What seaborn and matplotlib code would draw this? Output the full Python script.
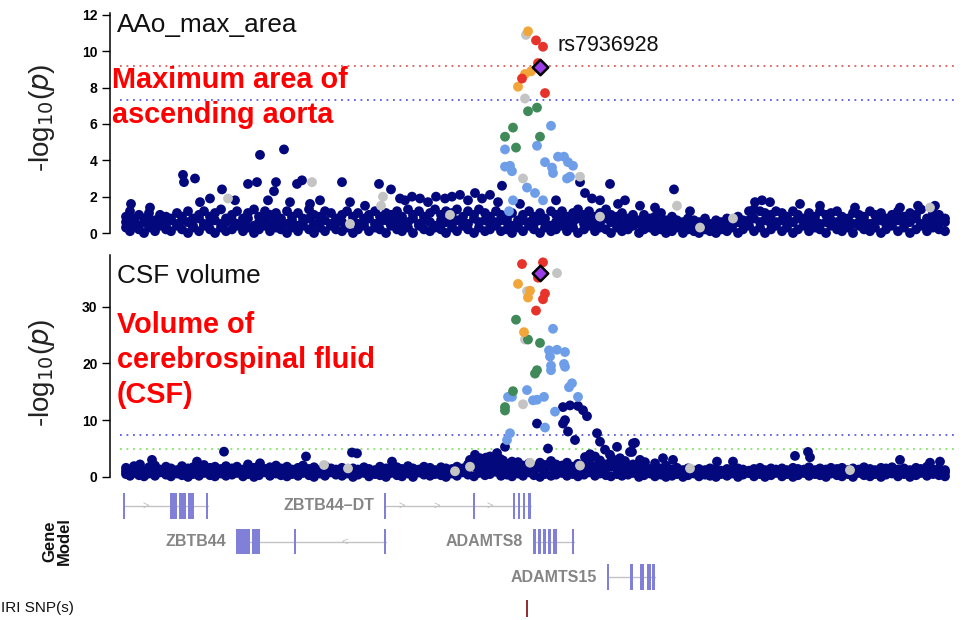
import numpy as np
import pandas as pd
import matplotlib
matplotlib.use("Agg")
import matplotlib.pyplot as plt
import seaborn as sns
from matplotlib.patches import Rectangle

sns.set_theme(style="white")
plt.rcParams["font.family"] = ["Liberation Sans", "DejaVu Sans"]

# ---------------- data (x = position along the region, arbitrary units) ----------------
band_pos = [
    126, 130, 134, 139, 144, 149, 155, 160, 166, 171,
    177, 182, 188, 193, 199, 204, 210, 215, 221, 226,
    232, 237, 243, 248, 254, 259, 265, 270, 276, 281,
    287, 292, 298, 303, 309, 314, 320, 325, 331, 336,
    342, 347, 353, 358, 364, 369, 375, 380, 386, 391,
    397, 402, 408, 413, 419, 424, 430, 435, 441, 446,
    452, 457, 463, 468, 474, 479, 485, 490, 496, 501,
    507, 512, 518, 523, 529, 534, 540, 545, 551, 556,
    562, 567, 573, 578, 584, 589, 595, 600, 606, 611,
    617, 622, 628, 633, 639, 644, 650, 655, 661, 666,
    672, 677, 683, 688, 694, 699, 705, 710, 716, 721,
    727, 732, 738, 743, 749, 754, 760, 765, 771, 776,
    782, 787, 793, 798, 804, 809, 815, 820, 826, 831,
    837, 842, 848, 853, 859, 864, 870, 875, 881, 886,
    892, 898, 904, 910, 916, 921, 927, 933, 939, 945]

aao_band_lo = [
    0.3, 0.1, 0.4, 0.2, 0.0, 0.3, 0.1, 0.4, 0.2, 0.1,
    0.4, 0.2, 0.0, 0.3, 0.1, 0.4, 0.2, 0.0, 0.3, 0.1,
    0.2, 0.4, 0.1, 0.3, 0.0, 0.2, 0.4, 0.1, 0.3, 0.2,
    0.0, 0.3, 0.1, 0.4, 0.2, 0.0, 0.3, 0.1, 0.4, 0.2,
    0.1, 0.3, 0.0, 0.2, 0.4, 0.1, 0.3, 0.2, 0.0, 0.4,
    0.2, 0.1, 0.3, 0.0, 0.4, 0.2, 0.1, 0.3, 0.2, 0.0,
    0.3, 0.1, 0.4, 0.2, 0.0, 0.3, 0.1, 0.2, 0.4, 0.1,
    0.2, 0.0, 0.3, 0.1, 0.4, 0.2, 0.0, 0.3, 0.1, 0.2,
    0.4, 0.1, 0.3, 0.0, 0.2, 0.4, 0.1, 0.3, 0.2, 0.0,
    0.3, 0.1, 0.2, 0.4, 0.0, 0.2, 0.3, 0.1, 0.2, 0.0,
    0.1, 0.3, 0.0, 0.2, 0.1, 0.0, 0.2, 0.1, 0.0, 0.2,
    0.1, 0.3, 0.0, 0.2, 0.4, 0.1, 0.3, 0.0, 0.2, 0.4,
    0.1, 0.3, 0.0, 0.2, 0.4, 0.1, 0.3, 0.2, 0.0, 0.4,
    0.2, 0.1, 0.3, 0.0, 0.4, 0.2, 0.1, 0.3, 0.0, 0.2,
    0.4, 0.1, 0.3, 0.0, 0.2, 0.4, 0.1, 0.3, 0.2, 0.1]

aao_band_mid = [
    0.6, 0.5, 0.8, 0.4, 0.6, 0.7, 0.5, 0.6, 0.4, 0.7,
    0.5, 0.7, 0.6, 0.4, 0.8, 0.5, 0.6, 0.7, 0.5, 0.6,
    0.7, 0.5, 0.6, 0.8, 0.4, 0.6, 0.7, 0.5, 0.8, 0.6,
    0.5, 0.7, 0.4, 0.6, 0.8, 0.5, 0.6, 0.7, 0.5, 0.6,
    0.6, 0.4, 0.7, 0.5, 0.6, 0.8, 0.5, 0.6, 0.7, 0.5,
    0.7, 0.5, 0.6, 0.8, 0.5, 0.7, 0.6, 0.4, 0.7, 0.6,
    0.5, 0.7, 0.6, 0.5, 0.8, 0.6, 0.7, 0.5, 0.6, 0.7,
    0.6, 0.4, 0.5, 0.7, 0.6, 0.5, 0.7, 0.6, 0.4, 0.6,
    0.7, 0.5, 0.6, 0.8, 0.5, 0.7, 0.6, 0.5, 0.8, 0.6,
    0.5, 0.6, 0.4, 0.7, 0.5, 0.6, 0.4, 0.5, 0.6, 0.4,
    0.4, 0.5, 0.3, 0.5, 0.4, 0.3, 0.5, 0.4, 0.3, 0.4,
    0.5, 0.4, 0.6, 0.5, 0.7, 0.8, 0.6, 0.7, 0.5, 0.6,
    0.7, 0.5, 0.6, 0.8, 0.5, 0.6, 0.7, 0.5, 0.6, 0.7,
    0.6, 0.5, 0.7, 0.5, 0.6, 0.7, 0.5, 0.6, 0.7, 0.5,
    0.6, 0.7, 0.5, 0.6, 0.8, 0.5, 0.6, 0.7, 0.5, 0.6]

aao_band_hi = [
    0.9, 1.2, 0.7, 1.0, 0.8, 1.1, 0.7, 1.0, 0.9, 0.8,
    1.1, 0.9, 1.2, 0.8, 1.0, 1.2, 0.9, 1.1, 1.3, 0.8,
    1.0, 1.2, 0.8, 1.1, 1.3, 0.9, 1.2, 1.0, 1.1, 0.8,
    1.2, 0.9, 1.1, 0.8, 1.3, 1.0, 0.9, 1.2, 1.1, 0.8,
    1.0, 1.2, 0.9, 1.1, 0.8, 1.0, 1.2, 0.9, 1.1, 1.0,
    1.2, 0.9, 1.3, 1.0, 1.2, 0.9, 1.1, 1.3, 1.0, 1.2,
    1.1, 1.3, 0.9, 1.2, 1.0, 1.3, 1.1, 0.9, 1.2, 1.0,
    0.8, 1.1, 0.7, 1.0, 1.2, 0.9, 1.1, 0.8, 1.2, 1.0,
    1.2, 0.9, 1.1, 1.3, 1.0, 1.2, 0.9, 1.1, 1.3, 1.0,
    0.9, 1.1, 0.8, 1.0, 0.7, 1.0, 0.8, 0.9, 1.1, 0.7,
    0.9, 0.7, 0.6, 0.8, 0.7, 0.6, 0.8, 0.5, 0.7, 0.6,
    0.8, 0.6, 0.9, 0.7, 1.2, 1.3, 1.2, 1.1, 1.0, 1.2,
    1.1, 0.9, 1.2, 1.0, 0.8, 1.1, 0.9, 1.2, 1.0, 1.1,
    1.2, 0.9, 0.8, 1.1, 1.0, 0.9, 1.2, 1.0, 1.1, 0.8,
    1.0, 1.2, 0.9, 1.1, 1.0, 1.3, 0.8, 1.1, 1.0, 0.8]

csf_band_lo = [
    0.5, 0.2, 0.7, 0.3, 0.1, 0.6, 0.2, 0.8, 0.4, 0.1,
    0.6, 0.3, 0.0, 0.5, 0.2, 0.7, 0.3, 0.1, 0.6, 0.2,
    0.4, 0.7, 0.1, 0.5, 0.0, 0.3, 0.8, 0.2, 0.6, 0.3,
    0.1, 0.5, 0.2, 0.7, 0.3, 0.0, 0.6, 0.2, 0.8, 0.4,
    0.2, 0.6, 0.0, 0.4, 0.7, 0.1, 0.5, 0.3, 0.0, 0.7,
    0.3, 0.1, 0.6, 0.0, 0.8, 0.4, 0.2, 0.5, 0.3, 0.0,
    0.6, 0.2, 0.8, 0.4, 0.1, 0.7, 0.3, 0.5, 0.9, 0.2,
    0.4, 0.1, 0.6, 0.2, 0.8, 0.3, 0.0, 0.5, 0.2, 0.4,
    0.7, 0.2, 0.5, 0.1, 0.4, 0.8, 0.2, 0.6, 0.3, 0.1,
    0.5, 0.2, 0.4, 0.7, 0.0, 0.3, 0.6, 0.1, 0.4, 0.0,
    0.2, 0.5, 0.0, 0.3, 0.6, 0.1, 0.4, 0.2, 0.0, 0.5,
    0.2, 0.6, 0.0, 0.4, 0.7, 0.1, 0.5, 0.0, 0.3, 0.7,
    0.1, 0.5, 0.0, 0.3, 0.7, 0.2, 0.5, 0.3, 0.0, 0.6,
    0.3, 0.1, 0.5, 0.0, 0.7, 0.3, 0.1, 0.5, 0.0, 0.4,
    0.6, 0.1, 0.5, 0.0, 0.3, 0.7, 0.2, 0.5, 0.3, 0.1]

csf_band_mid = [
    1.0, 0.8, 1.2, 0.9, 0.7, 1.1, 1.3, 0.9, 1.0, 0.8,
    0.9, 1.2, 1.0, 0.8, 1.1, 1.3, 0.9, 1.2, 1.0, 0.8,
    1.1, 0.9, 1.2, 1.0, 0.8, 1.3, 1.0, 1.1, 0.9, 1.2,
    1.0, 0.8, 1.1, 1.3, 0.9, 1.0, 0.8, 1.2, 1.0, 0.9,
    1.1, 0.8, 1.0, 0.9, 1.2, 0.8, 1.0, 1.1, 0.9, 0.8,
    1.2, 0.9, 1.1, 1.0, 0.8, 1.2, 1.0, 0.8, 1.1, 0.9,
    1.0, 1.2, 0.9, 1.5, 1.8, 2.0, 1.6, 1.9, 1.4, 1.7,
    1.5, 1.2, 1.7, 1.4, 1.6, 1.1, 1.7, 1.4, 1.8, 1.5,
    1.4, 1.7, 1.2, 1.6, 1.4, 1.8, 1.3, 1.6, 1.5, 1.8,
    1.4, 1.6, 1.1, 1.5, 1.0, 1.3, 0.9, 1.2, 1.0, 1.3,
    0.8, 1.0, 0.7, 0.9, 0.7, 0.9, 0.8, 1.0, 0.8, 0.7,
    0.9, 0.8, 1.0, 0.8, 0.7, 0.9, 1.0, 0.8, 1.0, 0.9,
    1.0, 0.8, 1.1, 0.9, 0.8, 1.1, 0.8, 1.0, 0.9, 1.1,
    0.9, 1.1, 0.8, 1.0, 0.9, 1.1, 0.9, 0.8, 1.0, 1.0,
    1.1, 0.9, 1.0, 0.8, 1.1, 0.9, 1.2, 0.9, 1.0, 0.8]

csf_band_hi = [
    1.6, 1.2, 1.9, 1.4, 1.1, 1.7, 2.0, 1.3, 1.8, 1.5,
    1.2, 1.9, 1.5, 1.7, 1.3, 2.1, 1.6, 1.8, 1.4, 1.9,
    1.5, 1.8, 1.3, 2.2, 1.6, 1.9, 1.4, 1.7, 2.0, 1.5,
    1.8, 1.3, 1.6, 2.0, 1.4, 1.7, 1.2, 1.9, 1.5, 1.3,
    1.6, 1.2, 1.5, 1.3, 1.7, 1.4, 1.2, 1.8, 1.5, 1.3,
    1.7, 1.4, 1.9, 1.5, 1.3, 1.8, 1.6, 1.2, 1.7, 1.5,
    1.4, 1.8, 1.5, 2.2, 2.6, 3.0, 2.4, 2.8, 2.2, 2.6,
    2.3, 1.8, 2.6, 2.0, 2.4, 1.7, 2.5, 2.1, 2.8, 2.2,
    2.0, 2.5, 1.8, 2.3, 2.1, 2.6, 1.9, 2.4, 2.2, 2.7,
    2.0, 2.3, 1.7, 2.2, 1.6, 1.9, 1.4, 1.8, 1.5, 2.0,
    1.3, 1.6, 1.2, 1.5, 1.1, 1.4, 1.2, 1.5, 1.3, 1.1,
    1.4, 1.2, 1.5, 1.3, 1.1, 1.4, 1.6, 1.2, 1.5, 1.3,
    1.5, 1.2, 1.6, 1.4, 1.3, 1.7, 1.2, 1.5, 1.3, 1.6,
    1.4, 1.6, 1.2, 1.5, 1.3, 1.7, 1.4, 1.2, 1.6, 1.5,
    1.7, 1.3, 1.5, 1.2, 1.6, 1.4, 1.8, 1.3, 1.5, 1.2]

# scattered low-LD SNPs above the band (r2 < 0.2)
aao_low_pos = [131, 150, 183, 184, 195, 200, 210, 222, 235, 248, 257, 260, 268, 276, 274,
               284, 290, 297, 302, 310, 320, 342, 350, 365, 379, 391, 400, 405, 412, 420,
               428, 436, 445, 452, 460, 468, 475, 482, 490, 498, 502, 520, 556, 580, 585,
               592, 600, 610, 618, 625, 640, 655, 674, 690, 755, 762, 770, 800, 820, 855,
               900, 918, 935]
aao_low_logp = [1.6, 1.4, 3.2, 2.8, 3.0, 1.7, 1.9, 2.4, 1.8, 2.7, 2.8, 4.3, 1.8, 2.8, 2.3,
                4.6, 1.7, 2.7, 2.9, 1.6, 1.8, 2.8, 1.7, 1.5, 2.7, 2.4, 1.9, 1.8, 2.0, 1.9,
                1.7, 2.0, 1.9, 2.0, 2.1, 1.8, 2.2, 1.9, 2.1, 1.7, 2.6, 1.6, 1.8, 2.8, 2.2,
                1.9, 1.8, 2.7, 1.6, 1.8, 1.5, 1.4, 2.4, 1.2, 1.7, 1.8, 1.7, 1.6, 1.5, 1.4,
                1.4, 1.5, 1.5]
aao_na_pos = [228, 312, 381, 383, 677, 733, 930, 450, 600, 350, 700]
aao_na_logp = [1.9, 2.8, 1.5, 2.0, 1.5, 0.8, 1.4, 1.0, 0.9, 0.5, 0.3]

csf_low_pos = [563, 570, 578, 583, 587, 565, 563, 568, 575, 537, 505, 548, 597, 600, 617,
               633, 635, 595, 610, 630, 632, 620, 605, 590, 640, 625, 152, 197, 224, 306,
               352, 357, 392, 475, 480, 490, 497, 503, 663, 673, 717, 733, 795, 808, 810,
               900, 930, 940, 260, 140, 600, 470, 478, 486, 493, 500, 512, 585, 612, 645,
               655]
csf_low_logp = [12.3, 12.6, 12.5, 11.75, 10.7, 10.0, 9.4, 8.0, 6.5, 9.4, 5.3, 5.0, 7.7, 6.2, 5.3,
                5.9, 6.0, 3.6, 3.9, 4.4, 4.4, 3.3, 4.8, 4.0, 3.0, 2.8, 3.0, 2.7, 4.45, 3.6,
                4.3, 4.15, 2.7, 3.9, 3.3, 3.6, 4.2, 2.9, 3.3, 3.0, 2.7, 2.7, 3.7, 4.4, 3.45,
                3.0, 2.5, 2.7, 2.4, 2.2, 2.9, 3.0, 2.8, 3.4, 2.9, 3.2, 2.7, 3.5, 3.2, 2.6,
                2.4]
csf_na_pos = [324, 348, 470, 580, 690, 850, 455, 530]
csf_na_logp = [2.1, 1.5, 1.8, 2.0, 1.5, 1.2, 1.0, 2.5]

# SNPs in LD with the lead variant
aao_ld_pos = [528, 526, 536, 543, 538, 531, 525, 522, 518, 545, 525, 528, 537, 551, 513,
              505, 540, 537, 516, 505, 505, 510, 512, 545, 552, 553, 558, 564, 568, 573,
              570, 567, 523, 580, 527, 535, 543, 513, 509]
aao_ld_logp = [11.1, 10.9, 10.6, 10.25, 9.35, 8.9, 8.75, 8.5, 8.05, 7.7, 7.4, 6.7, 6.9, 5.9, 5.8,
               5.3, 5.3, 4.8, 4.7, 4.6, 3.65, 3.7, 3.4, 3.9, 3.6, 3.3, 4.2, 4.2, 3.9, 3.7,
               3.1, 3.0, 3.0, 3.1, 2.5, 2.2, 1.8, 1.8, 1.2]
aao_ld_r2 = ["0.6-0.8", "NA", "0.8-1", "0.8-1", "0.8-1", "0.6-0.8", "0.6-0.8", "0.8-1", "0.6-0.8", "0.8-1",
             "NA", "0.4-0.6", "0.4-0.6", "0.2-0.4", "0.4-0.6", "0.4-0.6", "0.4-0.6", "0.2-0.4", "0.4-0.6", "0.2-0.4",
             "0.2-0.4", "0.2-0.4", "0.2-0.4", "0.2-0.4", "0.2-0.4", "0.2-0.4", "0.2-0.4", "0.2-0.4", "0.2-0.4", "0.2-0.4",
             "0.2-0.4", "0.2-0.4", "NA", "NA", "0.2-0.4", "0.2-0.4", "0.2-0.4", "0.2-0.4", "0.2-0.4"]

csf_ld_pos = [522, 543, 538, 545, 543, 536, 518, 530, 528, 524, 557, 527, 525, 523, 516,
              528, 540, 537, 535, 513, 505, 505, 553, 549, 557, 565, 550, 551, 551, 564,
              565, 572, 569, 527, 512, 508, 544, 537, 533, 578, 555, 545, 510, 507]
csf_ld_logp = [37.5, 37.8, 35.1, 32.3, 31.3, 29.3, 34.0, 32.8, 31.6, 25.5, 35.9, 32.7, 24.2, 12.8, 27.7,
               24.2, 23.6, 18.8, 18.2, 15.1, 12.3, 11.7, 26.1, 22.3, 22.4, 22.0, 21.2, 19.6, 18.8, 19.9,
               19.4, 16.5, 15.8, 15.3, 14.1, 14.1, 14.1, 13.6, 13.5, 14.1, 11.5, 8.7, 7.7, 6.5]
csf_ld_r2 = ["0.8-1", "0.8-1", "0.8-1", "0.8-1", "0.8-1", "0.8-1", "0.6-0.8", "0.6-0.8", "0.6-0.8", "0.6-0.8",
             "NA", "NA", "NA", "NA", "0.4-0.6", "0.4-0.6", "0.4-0.6", "0.4-0.6", "0.4-0.6", "0.4-0.6",
             "0.4-0.6", "0.4-0.6", "0.2-0.4", "0.2-0.4", "0.2-0.4", "0.2-0.4", "0.2-0.4", "0.2-0.4", "0.2-0.4", "0.2-0.4",
             "0.2-0.4", "0.2-0.4", "0.2-0.4", "0.2-0.4", "0.2-0.4", "0.2-0.4", "0.2-0.4", "0.2-0.4", "0.2-0.4", "0.2-0.4",
             "0.2-0.4", "0.2-0.4", "0.2-0.4", "0.2-0.4"]

lead_snp = "rs7936928"
lead_pos = 540
aao_lead_logp = 9.15
csf_lead_logp = 35.85

aao_thresholds = [9.2, 7.3]
csf_thresholds = [7.3, 5.0]

# gene model
gene_names = ["", "ZBTB44\u2013DT", "ZBTB44", "ADAMTS8", "ADAMTS15"]
gene_rows = [1, 1, 2, 2, 3]
gene_start = [123, 384, 236, 533, 607]
gene_end = [208, 531, 386, 574, 655]
gene_exons = [
    [(123, 125), (170, 177), (179, 186), (188, 194), (206, 208)],
    [(384, 386), (473, 475), (513, 515), (518, 520), (523, 525), (528, 531)],
    [(236, 250), (252, 260), (294, 296), (384, 386)],
    [(533, 536), (538, 541), (543, 546), (548, 551), (553, 557), (572, 574)],
    [(607, 609), (630, 633), (640, 644), (647, 651), (652, 655)],
]
gene_arrows = [[146], [402, 437, 490], [345], [], []]
gene_strand = ["+", "+", "-", "-", "-"]
mri_snp_pos = [527]

# ---------------- styling ----------------
LD_COLORS = {"0-0.2": "#03087c", "NA": "#c4c4c4", "0.2-0.4": "#6f9ee9",
             "0.4-0.6": "#3f8a58", "0.6-0.8": "#f2a639", "0.8-1": "#e8332a"}
LD_RANK = {"0-0.2": 0, "NA": 1, "0.2-0.4": 2, "0.4-0.6": 3, "0.6-0.8": 4, "0.8-1": 5}
LINE_COLORS = {9.2: "#e05a5a", 7.3: "#5a5aee", 5.0: "#86e06a"}

W, H = 973, 620
fig = plt.figure(figsize=(W / 100, H / 100), dpi=100)


def px_axes(x0, y0, x1, y1):
    return fig.add_axes([x0 / W, 1 - y1 / H, (x1 - x0) / W, (y1 - y0) / H])


def ftext(x, y, s, **kw):
    return fig.text(x / W, 1 - y / H, s, **kw)


def build_df(lo, mid, hi, low_pos, low_logp, na_pos, na_logp, ld_pos, ld_logp, ld_r2):
    parts = [
        pd.DataFrame({"pos": band_pos, "logp": lo, "r2": "0-0.2"}),
        pd.DataFrame({"pos": band_pos, "logp": mid, "r2": "0-0.2"}),
        pd.DataFrame({"pos": band_pos, "logp": hi, "r2": "0-0.2"}),
        pd.DataFrame({"pos": low_pos, "logp": low_logp, "r2": "0-0.2"}),
        pd.DataFrame({"pos": na_pos, "logp": na_logp, "r2": "NA"}),
        pd.DataFrame({"pos": ld_pos, "logp": ld_logp, "r2": ld_r2}),
    ]
    df = pd.concat(parts, ignore_index=True)
    df["rank"] = df["r2"].map(LD_RANK)
    return df.sort_values("rank", kind="stable")


def style_panel(ax, ylim, ticks, top):
    ax.set_xlim(110, 960)
    ax.set_ylim(*ylim)
    for side in ["top", "right", "bottom"]:
        ax.spines[side].set_visible(False)
    ax.spines["left"].set_bounds(0, top)
    ax.spines["left"].set_color("black")
    ax.spines["left"].set_linewidth(1.1)
    ax.set_xticks([])
    ax.set_yticks(ticks)
    ax.set_yticklabels([str(t) for t in ticks], fontweight="bold")
    ax.tick_params(axis="y", left=True, direction="out", length=6, width=1,
                   labelsize=10, pad=3, colors="black")
    ax.set_xlabel("")
    ax.set_ylabel("")
    ax.patch.set_alpha(0)


def draw_panel(ax, df, lead_logp, thresholds):
    for t in thresholds:
        ax.hlines(t, 120, 958, colors=LINE_COLORS[t], linestyles=(0, (1, 2.6)),
                  linewidth=1.3, zorder=1)
    sns.scatterplot(data=df, x="pos", y="logp", hue="r2", palette=LD_COLORS,
                    s=50, linewidth=0, legend=False, ax=ax, zorder=3)
    sns.scatterplot(x=[lead_pos], y=[lead_logp], marker="D", s=62, color="#9b3ee8",
                    edgecolor="black", linewidth=1.8, ax=ax, zorder=5, legend=False)


ax1 = px_axes(110, 11.3, 960, 242.1)
ax2 = px_axes(110, 254.4, 960, 486)
axg = px_axes(110, 488, 960, 595)
axs = px_axes(110, 597, 960, 620)

df_aao = build_df(aao_band_lo, aao_band_mid, aao_band_hi, aao_low_pos, aao_low_logp,
                  aao_na_pos, aao_na_logp, aao_ld_pos, aao_ld_logp, aao_ld_r2)
df_csf = build_df(csf_band_lo, csf_band_mid, csf_band_hi, csf_low_pos, csf_low_logp,
                  csf_na_pos, csf_na_logp, csf_ld_pos, csf_ld_logp, csf_ld_r2)

draw_panel(ax1, df_aao, aao_lead_logp, aao_thresholds)
draw_panel(ax2, df_csf, csf_lead_logp, csf_thresholds)
style_panel(ax1, (-0.5, 12.2), [0, 2, 4, 6, 8, 10, 12], 12.1)
style_panel(ax2, (-1.6, 39.2), [0, 10, 20, 30], 39.1)

ax1.text(558, 10.3, lead_snp, fontsize=15.5, color="#111111", va="center", ha="left")

# titles and annotations
ftext(117, 25, "AAo_max_area", fontsize=18.8, color="#111111", va="center", ha="left")
ftext(117, 276, "CSF volume", fontsize=18.8, color="#111111", va="center", ha="left")
red_kw = dict(fontsize=20.8, color="#ff0000", fontweight="bold", va="baseline", ha="left")
ftext(112, 88, "Maximum area of", **red_kw)
ftext(112, 123, "ascending aorta", **red_kw)
ftext(117, 333, "Volume of", **red_kw)
ftext(117, 368, "cerebrospinal fluid", **red_kw)
ftext(117, 403, "(CSF)", **red_kw)

ylab = r"-log$_{10}$($p$)"
ftext(42, 118, ylab, fontsize=20, rotation=90, ha="center", va="center", color="#222222")
ftext(42, 373, ylab, fontsize=20, rotation=90, ha="center", va="center", color="#222222")

# gene model track
EXON_COLOR = "#8080d8"
axg.set_xlim(110, 960)
axg.set_ylim(3.5, 0.5)
axg.axis("off")
for name, row, s, e, exons, arrows, strand in zip(gene_names, gene_rows, gene_start, gene_end,
                                                  gene_exons, gene_arrows, gene_strand):
    axg.plot([s, e], [row, row], color="#c2c2c2", lw=1.0, zorder=1)
    for a, b in exons:
        axg.add_patch(Rectangle((a, row - 0.36), b - a, 0.72, facecolor=EXON_COLOR,
                                edgecolor="none", zorder=2))
    for ax_ in arrows:
        axg.text(ax_, row, ">" if strand == "+" else "<", color="#bdbdbd", fontsize=8,
                 ha="center", va="center", zorder=1)
    if name:
        axg.text(s - 10, row, name, ha="right", va="center", fontsize=11.5, fontweight="bold",
                 color="#858585", family=["Liberation Sans Narrow", "Liberation Sans"])

ftext(57, 541, "Gene\nModel", rotation=90, ha="center", va="center", fontsize=12,
      fontweight="bold", linespacing=0.95, color="#111111")

# MRI SNP track
axs.set_xlim(110, 960)
axs.set_ylim(0, 1)
axs.axis("off")
axs.vlines(mri_snp_pos, 0.12, 0.85, colors="#8b1c1c", lw=1.3)
ftext(1, 608, "IRI SNP(s)", fontsize=11, ha="left", va="center", color="#111111")

fig.savefig("out.png", dpi=100)
